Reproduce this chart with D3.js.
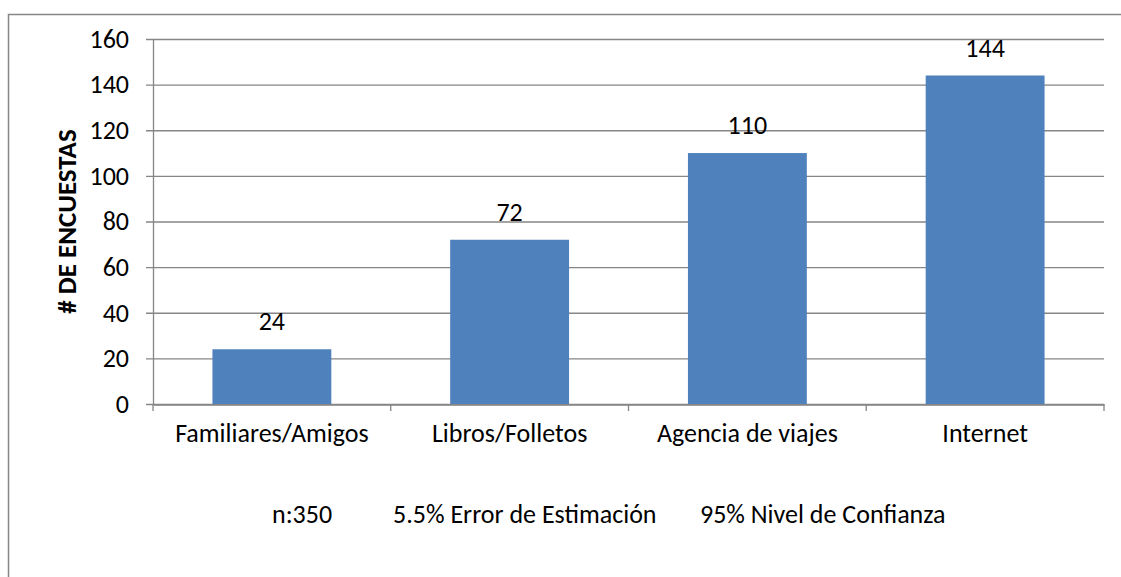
<!DOCTYPE html>
<html>
<head>
<meta charset="utf-8">
<script src="https://cdn.jsdelivr.net/npm/d3@7"></script>
<style>
  body { margin: 0; background: #fff; }
  text { font-family: Carlito, Calibri, "Open Sans", sans-serif; fill: #000; }
</style>
</head>
<body>
<div id="chart"></div>
<script>
// DATA
const categories = ["Familiares/Amigos", "Libros/Folletos", "Agencia de viajes", "Internet"];
const values = [24, 72, 110, 144];
const yTicks = [0, 20, 40, 60, 80, 100, 120, 140, 160];
const yTitle = "# DE ENCUESTAS";
const footer = ["n:350", "5.5% Error de Estimación", "95% Nivel de Confianza"];

const width = 1121, height = 577;
const margin = {top: 39, right: 17, bottom: 173, left: 153};
const fontSize = "26px";

const svg = d3.select("#chart")
  .append("svg")
  .attr("width", width)
  .attr("height", height);

// outer chart border (cropped at right/bottom)
svg.append("rect")
  .attr("x", 8.5).attr("y", 14.5)
  .attr("width", 1130).attr("height", 600)
  .attr("fill", "none")
  .attr("stroke", "#868686")
  .attr("stroke-width", 1.5);

const x = d3.scaleBand()
  .domain(categories)
  .range([margin.left, width - margin.right])
  .paddingInner(0.5)
  .paddingOuter(0.25);

const y = d3.scaleLinear()
  .domain([0, 160])
  .range([height - margin.bottom, margin.top]);

// GRIDLINES
svg.append("g")
  .selectAll("line")
  .data(yTicks)
  .join("line")
  .attr("x1", margin.left - 7)
  .attr("x2", width - margin.right)
  .attr("y1", d => y(d) + 0.5)
  .attr("y2", d => y(d) + 0.5)
  .attr("stroke", "#868686")
  .attr("stroke-width", 1.3);

// Y AXIS
const yAxis = svg.append("g")
  .attr("transform", `translate(${margin.left},0)`)
  .call(d3.axisLeft(y).tickValues(yTicks).tickSize(0).tickPadding(24));
yAxis.select(".domain").attr("stroke", "#868686").attr("stroke-width", 1.3);
yAxis.selectAll("text").attr("font-size", fontSize)
  .style("font-family", "Carlito, Calibri, 'Open Sans', sans-serif");

// BARS
svg.append("g")
  .selectAll("rect")
  .data(values)
  .join("rect")
  .attr("x", (d, i) => x(categories[i]))
  .attr("y", d => y(d))
  .attr("width", x.bandwidth())
  .attr("height", d => y(0) - y(d))
  .attr("fill", "#4F81BD");

// X AXIS
const xAxis = svg.append("g")
  .attr("transform", `translate(0,${y(0) + 0.5})`)
  .call(d3.axisBottom(x).tickSize(0).tickPadding(19));
xAxis.select(".domain").attr("stroke", "#868686").attr("stroke-width", 1.3);
xAxis.selectAll("text").attr("font-size", fontSize)
  .style("font-family", "Carlito, Calibri, 'Open Sans', sans-serif");

// category boundary tick marks
const step = x.step();
svg.append("g")
  .selectAll("line")
  .data(d3.range(categories.length + 1))
  .join("line")
  .attr("x1", i => margin.left + i * step)
  .attr("x2", i => margin.left + i * step)
  .attr("y1", y(0))
  .attr("y2", y(0) + 7)
  .attr("stroke", "#868686")
  .attr("stroke-width", 1.3);

// VALUE LABELS
svg.append("g")
  .selectAll("text")
  .data(values)
  .join("text")
  .attr("x", (d, i) => x(categories[i]) + x.bandwidth() / 2)
  .attr("y", d => y(d) - 19)
  .attr("text-anchor", "middle")
  .attr("font-size", fontSize)
  .text(d => d);

// Y TITLE
svg.append("text")
  .attr("transform", `translate(76,${(y(0) + y(160)) / 2}) rotate(-90)`)
  .attr("text-anchor", "middle")
  .attr("font-size", "27px")
  .attr("font-weight", "bold")
  .text(yTitle);

// FOOTER
const footerX = [272, 393, 700];
svg.append("g")
  .selectAll("text")
  .data(footer)
  .join("text")
  .attr("x", (d, i) => footerX[i])
  .attr("y", 523)
  .attr("font-size", fontSize)
  .text(d => d);
</script>
</body>
</html>
